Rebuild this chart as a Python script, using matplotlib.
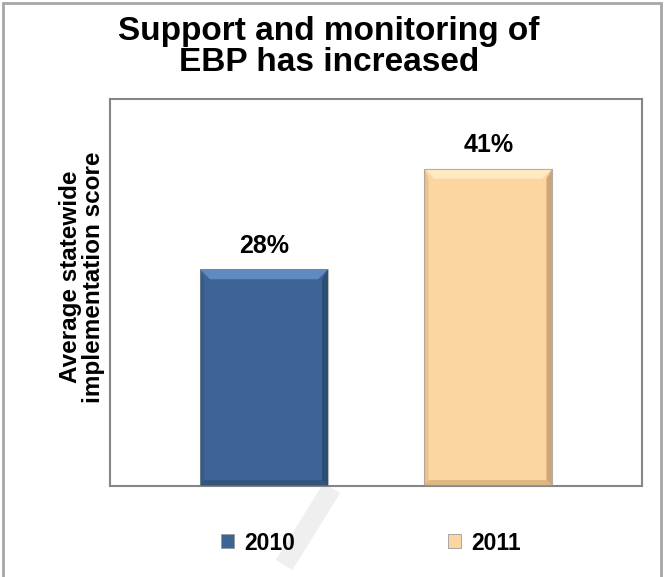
import matplotlib
matplotlib.use('Agg')
import matplotlib.pyplot as plt
import matplotlib.patches as mpatches
from matplotlib.lines import Line2D

# data
years = ['2010', '2011']
scores = [28, 41]
colors = ['#3C6595', '#FDD5A0']
tops = ['#6A95CC', '#FFF0CC']
sides = ['#274769', '#BE9A6A']

plt.rcParams['font.family'] = ['Liberation Sans', 'DejaVu Sans']
plt.rcParams['font.weight'] = 'bold'

W, H = 664, 577
fig = plt.figure(figsize=(W / 100, H / 100), dpi=100)
fig.patch.set_facecolor('white')

# outer frame
fig.add_artist(mpatches.Rectangle((3 / W, -0.01), 658 / W, 1 - 3 / H + 0.01,
                                  transform=fig.transFigure, fill=False,
                                  edgecolor='#A6A6A6', linewidth=2))
# faint watermark stroke
fig.add_artist(Line2D([332 / W, 284 / W], [1 - 488 / H, 1 - 565 / H],
                      transform=fig.transFigure, color='#EFEFEF',
                      linewidth=14, solid_capstyle='butt', zorder=0))

ax = fig.add_axes([110 / W, 1 - 486 / H, 532 / W, 387 / H])
ax.set_facecolor('none')
xpos = [0, 1]
bars = ax.bar(xpos, scores, width=0.57, color=colors, edgecolor='none', zorder=2)
ax.set_xlim(-0.686, 1.684)
ax.set_ylim(0, 50)
ax.set_xticks([])
ax.set_yticks([])
for s in ax.spines.values():
    s.set_color('#868686')
    s.set_linewidth(1.5)

# bevel effect on each bar, sized in pixels
fig.canvas.draw()
inv = ax.transData.inverted()
bev = 10
for b, top, side in zip(bars, tops, sides):
    x0, y0 = b.get_x(), b.get_y()
    x1, y1 = x0 + b.get_width(), y0 + b.get_height()
    (px0, py0) = ax.transData.transform((x0, y0))
    (px1, py1) = ax.transData.transform((x1, y1))
    def d(px, py):
        return inv.transform((px, py))
    topq = [d(px0, py1), d(px1, py1), d(px1 - bev, py1 - bev), d(px0 + bev, py1 - bev)]
    ax.add_patch(mpatches.Polygon(topq, closed=True, facecolor=top, edgecolor='none', alpha=0.8, zorder=3))
    rq = [d(px1, py1), d(px1, py0), d(px1 - 6, py0 + 6), d(px1 - 6, py1 - bev)]
    ax.add_patch(mpatches.Polygon(rq, closed=True, facecolor=side, edgecolor='none', alpha=0.75, zorder=3))
    bq = [d(px0, py0), d(px1, py0), d(px1 - 6, py0 + 6), d(px0 + 5, py0 + 6)]
    ax.add_patch(mpatches.Polygon(bq, closed=True, facecolor=side, edgecolor='none', alpha=0.5, zorder=3))
    lq = [d(px0, py1), d(px0, py0), d(px0 + 4, py0 + 4), d(px0 + 4, py1 - bev)]
    ax.add_patch(mpatches.Polygon(lq, closed=True, facecolor=side, edgecolor='none', alpha=0.3, zorder=3))
    ax.add_patch(mpatches.Rectangle((x0, y0), b.get_width(), b.get_height(), fill=False,
                                    edgecolor='#8C8C8C', linewidth=0.8, alpha=0.6, zorder=4))

for x, v in zip(xpos, scores):
    ax.annotate(f'{v}%', (x, v), xytext=(0, 12), textcoords='offset points',
                ha='center', va='baseline', fontsize=18, fontweight='bold')

fig.text(329 / W, 1 - 47 / H, 'Support and monitoring of\nEBP has increased',
         ha='center', va='center', fontsize=24, fontweight='bold', linespacing=1.0)
fig.text(82 / W, 1 - 277 / H, 'Average statewide\nimplementation score',
         ha='center', va='center', rotation=90, fontsize=17.5, fontweight='bold',
         linespacing=0.95)

handles = [mpatches.Patch(facecolor=c, edgecolor='#9A9A9A', linewidth=0.6) for c in colors]
fig.legend(handles, years, loc='center', bbox_to_anchor=(371 / W, 1 - 543 / H),
           ncol=2, frameon=False, handlelength=0.57, handleheight=0.57,
           handletextpad=0.43, columnspacing=6.7, prop={'weight': 'bold', 'size': 16.5})

fig.savefig('out.png', dpi=100)
